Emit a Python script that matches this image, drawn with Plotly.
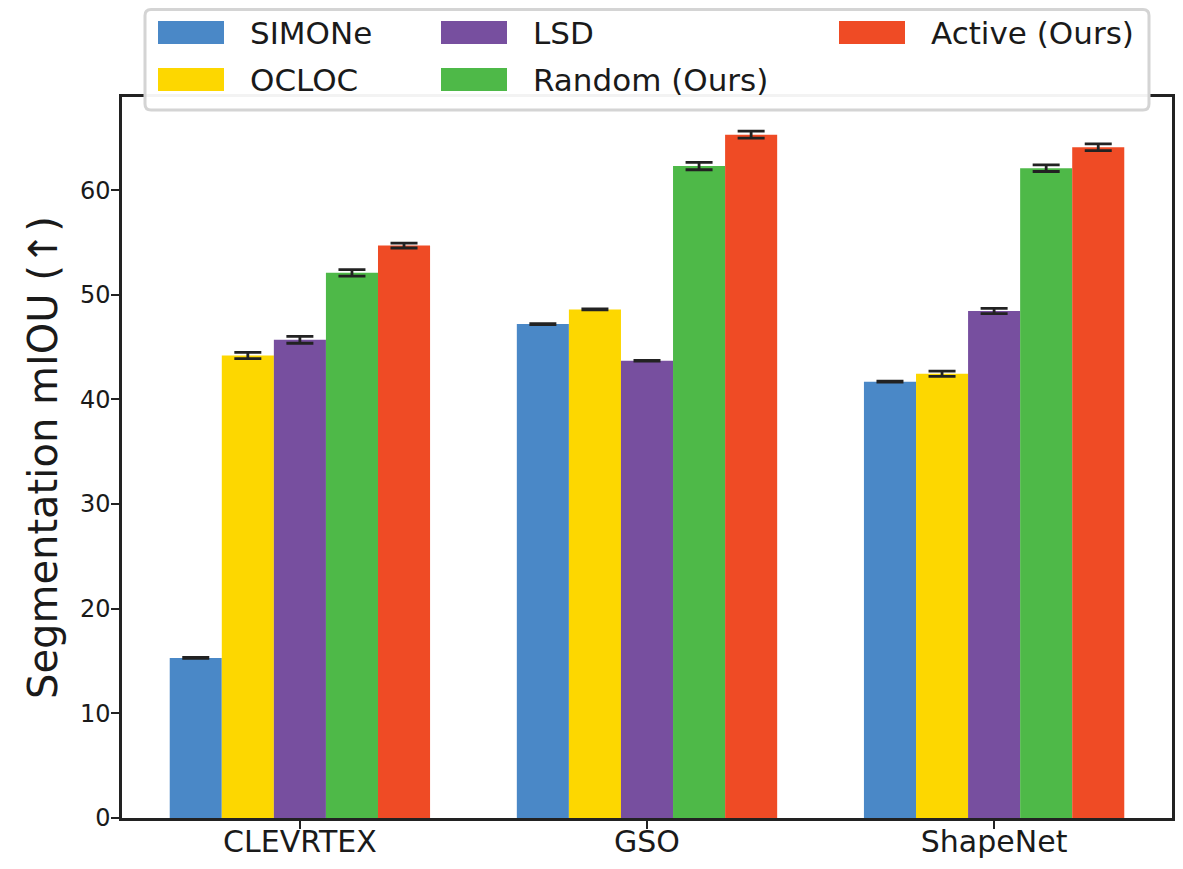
import plotly.graph_objects as go

categories = ["CLEVRTEX", "GSO", "ShapeNet"]
series_names = ["SIMONe", "OCLOC", "LSD", "Random (Ours)", "Active (Ours)"]
simone = [15.3, 47.2, 41.7]
simone_err = [0.04, 0.04, 0.04]
ocloc = [44.2, 48.6, 42.45]
ocloc_err = [0.3, 0.04, 0.25]
lsd = [45.7, 43.7, 48.45]
lsd_err = [0.33, 0.04, 0.25]
random_ours = [52.1, 62.3, 62.1]
random_err = [0.31, 0.35, 0.32]
active_ours = [54.7, 65.3, 64.1]
active_err = [0.23, 0.33, 0.32]
yticks = [0, 10, 20, 30, 40, 50, 60]

colors = ["#4a88c7", "#fdd700", "#774f9f", "#4eb948", "#ef4b25"]
values = [simone, ocloc, lsd, random_ours, active_ours]
errors = [simone_err, ocloc_err, lsd_err, random_err, active_err]

OFF = 8  # page body margin
W, H = 1183 - 2 * OFF, 869 - 2 * OFF
L, R, T, B = 122 - OFF, 1172 - OFF, 97 - OFF, 818 - OFF
FONT = "DejaVu Sans"
TXT = "#1a1a1a"

fig = go.Figure()
for name, vals, errs, col in zip(series_names, values, errors, colors):
    fig.add_trace(go.Bar(
        x=categories, y=vals, name=name, marker=dict(color=col, line=dict(width=0)),
        error_y=dict(type="data", array=errs, visible=True, color="#222222",
                     thickness=2.8, width=13.5),
        showlegend=False,
    ))


def px_x(px):
    # px given in screen coordinates of the reference
    return (px - OFF - L) / (R - L)


def px_y(py):
    return (B - (py - OFF)) / (B - T)


# legend box (rounded)
x0, x1 = px_x(145), px_x(1149)
y0, y1 = px_y(110), px_y(OFF + 1.5)
rx, ry = 6 / (R - L), 6 / (B - T)
path = (f"M {x0+rx},{y1} L {x1-rx},{y1} Q {x1},{y1} {x1},{y1-ry} "
        f"L {x1},{y0+ry} Q {x1},{y0} {x1-rx},{y0} L {x0+rx},{y0} "
        f"Q {x0},{y0} {x0},{y0+ry} L {x0},{y1-ry} Q {x0},{y1} {x0+rx},{y1} Z")
fig.add_shape(type="path", path=path, xref="paper", yref="paper",
              fillcolor="rgba(255,255,255,0.95)", line=dict(color="#d4d4d4", width=3),
              layer="above")

# legend entries: column-wise fill as in reference
legend_pos = [
    (158, 21),   # SIMONe
    (158, 68),   # OCLOC
    (441, 21),   # LSD
    (441, 68),   # Random
    (839, 21),   # Active
]
for (sx, sy), name, col in zip(legend_pos, series_names, colors):
    fig.add_shape(type="rect", xref="paper", yref="paper",
                  x0=px_x(sx), x1=px_x(sx + 66), y0=px_y(sy + 23), y1=px_y(sy),
                  fillcolor=col, line=dict(width=0), layer="above")
    fig.add_annotation(x=px_x(sx + 90), y=px_y(sy + 11.5), xref="paper", yref="paper",
                       text=name, showarrow=False, xanchor="left", yanchor="middle",
                       font=dict(family=FONT, size=31, color=TXT))

fig.update_layout(
    width=W, height=H,
    margin=dict(l=L, r=W - R, t=T, b=H - B, pad=0),
    paper_bgcolor="white", plot_bgcolor="white",
    barmode="group", bargap=0.25, bargroupgap=0,
    font=dict(family=FONT, color=TXT),
)
fig.update_xaxes(
    range=[-0.5125, 2.5125], showline=True, linecolor="#222222", linewidth=2.5, mirror=True,
    ticks="outside", ticklen=8, tickwidth=2, tickcolor="#222222",
    tickfont=dict(family=FONT, size=30, color=TXT), showgrid=False, zeroline=False,
    ticklabelstandoff=-13, automargin=False,
)
fig.update_yaxes(
    range=[0, 68.9], tickvals=yticks, showline=True, linecolor="#222222", linewidth=2.5,
    mirror=True, ticks="outside", ticklen=8, tickwidth=2, tickcolor="#222222",
    tickfont=dict(family=FONT, size=24, color=TXT), showgrid=False, zeroline=False,
    ticklabelstandoff=-4,
    title=dict(text="Segmentation mIOU (↑)", font=dict(family=FONT, size=40, color=TXT),
               standoff=10),
    automargin=False,
)

fig.write_html("out.html")
